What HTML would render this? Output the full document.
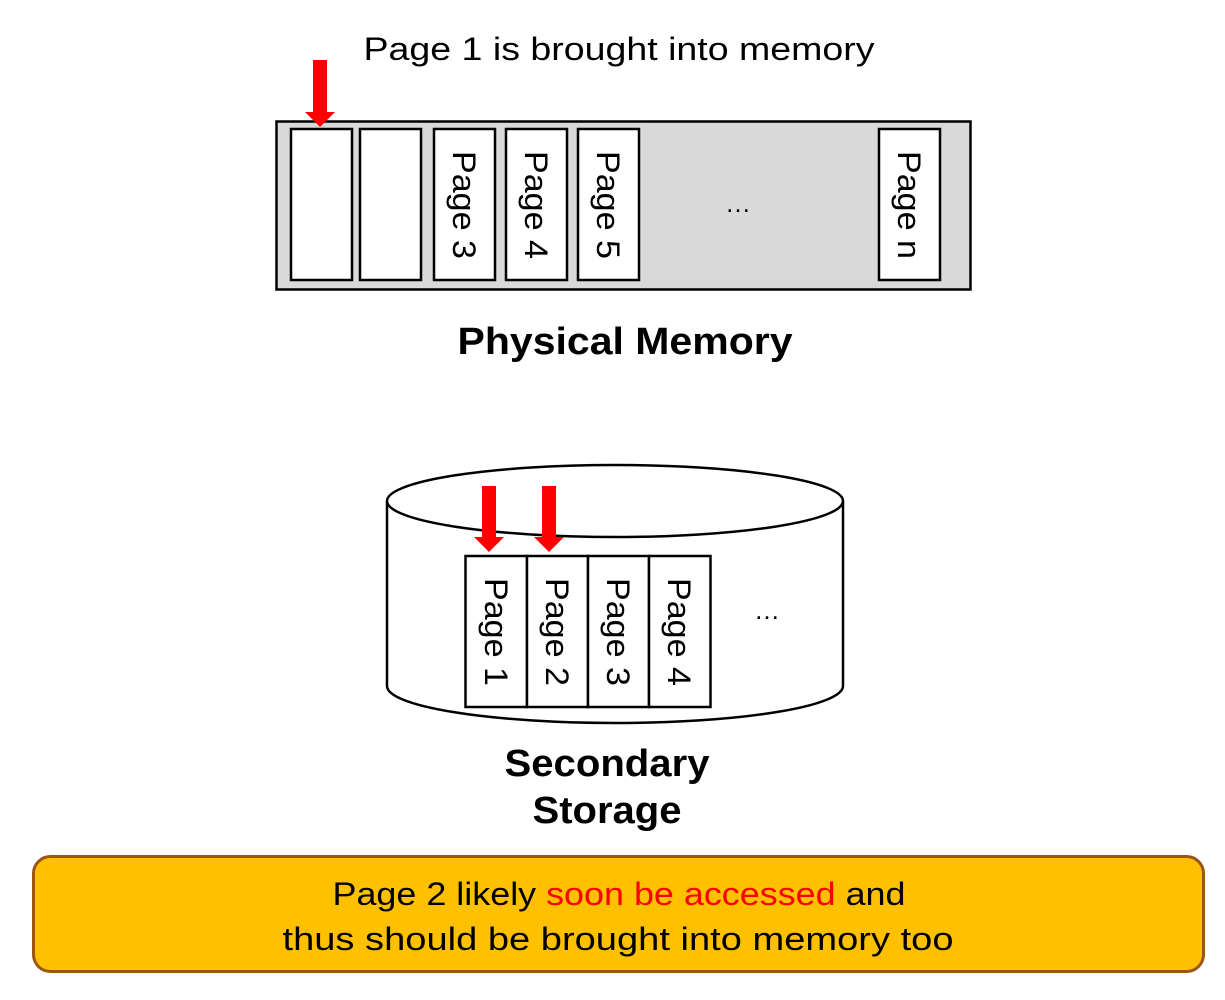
<!DOCTYPE html>
<html><head><meta charset="utf-8"><style>
html,body{margin:0;padding:0;background:#fff;}
svg{display:block;font-family:"Liberation Sans","Noto Sans CJK KR",sans-serif;}
</style></head><body>
<svg width="1225" height="1000" viewBox="0 0 1225 1000" xmlns="http://www.w3.org/2000/svg">
<text x="619" y="60" font-size="32" text-anchor="middle" textLength="511" lengthAdjust="spacingAndGlyphs">Page 1 is brought into memory</text>
<rect x="276.5" y="121.5" width="694" height="168" fill="#d9d9d9" stroke="#000" stroke-width="2.5"/>
<g fill="#fff" stroke="#000" stroke-width="2.5">
<rect x="291" y="129" width="61" height="151"/>
<rect x="360" y="129" width="61" height="151"/>
<rect x="434" y="129" width="61" height="151"/>
<rect x="506" y="129" width="61" height="151"/>
<rect x="578" y="129" width="61" height="151"/>
<rect x="879" y="129" width="61" height="151"/>
</g>
<g font-size="32" text-anchor="middle">
<text transform="translate(453,205) rotate(90)" textLength="108" lengthAdjust="spacingAndGlyphs">Page 3</text>
<text transform="translate(525,205) rotate(90)" textLength="108" lengthAdjust="spacingAndGlyphs">Page 4</text>
<text transform="translate(597,205) rotate(90)" textLength="108" lengthAdjust="spacingAndGlyphs">Page 5</text>
<text transform="translate(898,205) rotate(90)" textLength="108" lengthAdjust="spacingAndGlyphs">Page n</text>
</g>
<text x="738" y="212" font-size="26" text-anchor="middle">…</text>
<polygon points="313,60 327,60 327,112 335,112 320,127 305,112 313,112" fill="#ff0000"/>
<text x="625" y="354" font-size="38" font-weight="bold" text-anchor="middle" textLength="335" lengthAdjust="spacingAndGlyphs">Physical Memory</text>

<path d="M387,501 L387,686 A228,37 0 0 0 843,686 L843,501" fill="#fff" stroke="#000" stroke-width="2.5"/>
<ellipse cx="615" cy="501" rx="228" ry="36" fill="#fff" stroke="#000" stroke-width="2.5"/>
<g fill="#fff" stroke="#000" stroke-width="2.5">
<rect x="465.5" y="556" width="61.5" height="151"/>
<rect x="527" y="556" width="61" height="151"/>
<rect x="588" y="556" width="61" height="151"/>
<rect x="649" y="556" width="61.5" height="151"/>
</g>
<g font-size="32" text-anchor="middle">
<text transform="translate(485,632) rotate(90)" textLength="108" lengthAdjust="spacingAndGlyphs">Page 1</text>
<text transform="translate(546,632) rotate(90)" textLength="108" lengthAdjust="spacingAndGlyphs">Page 2</text>
<text transform="translate(607,632) rotate(90)" textLength="108" lengthAdjust="spacingAndGlyphs">Page 3</text>
<text transform="translate(668,632) rotate(90)" textLength="108" lengthAdjust="spacingAndGlyphs">Page 4</text>
</g>
<text x="767" y="619" font-size="26" text-anchor="middle">…</text>
<polygon points="482,486 496,486 496,537 504,537 489,552 474,537 482,537" fill="#ff0000"/>
<polygon points="542,486 556,486 556,537 564,537 549,552 534,537 542,537" fill="#ff0000"/>
<text x="607" y="776" font-size="38" font-weight="bold" text-anchor="middle" textLength="205" lengthAdjust="spacingAndGlyphs">Secondary</text>
<text x="607" y="823" font-size="38" font-weight="bold" text-anchor="middle" textLength="149" lengthAdjust="spacingAndGlyphs">Storage</text>

<rect x="33.5" y="856.5" width="1170" height="115" rx="17" fill="#ffc000" stroke="#9c5514" stroke-width="3"/>
<text x="619" y="905" font-size="32" text-anchor="middle" textLength="573" lengthAdjust="spacingAndGlyphs">Page 2 likely <tspan fill="#ff0000">soon be accessed</tspan> and</text>
<text x="618" y="950" font-size="32" text-anchor="middle" textLength="671" lengthAdjust="spacingAndGlyphs">thus should be brought into memory too</text>
</svg>
</body></html>
